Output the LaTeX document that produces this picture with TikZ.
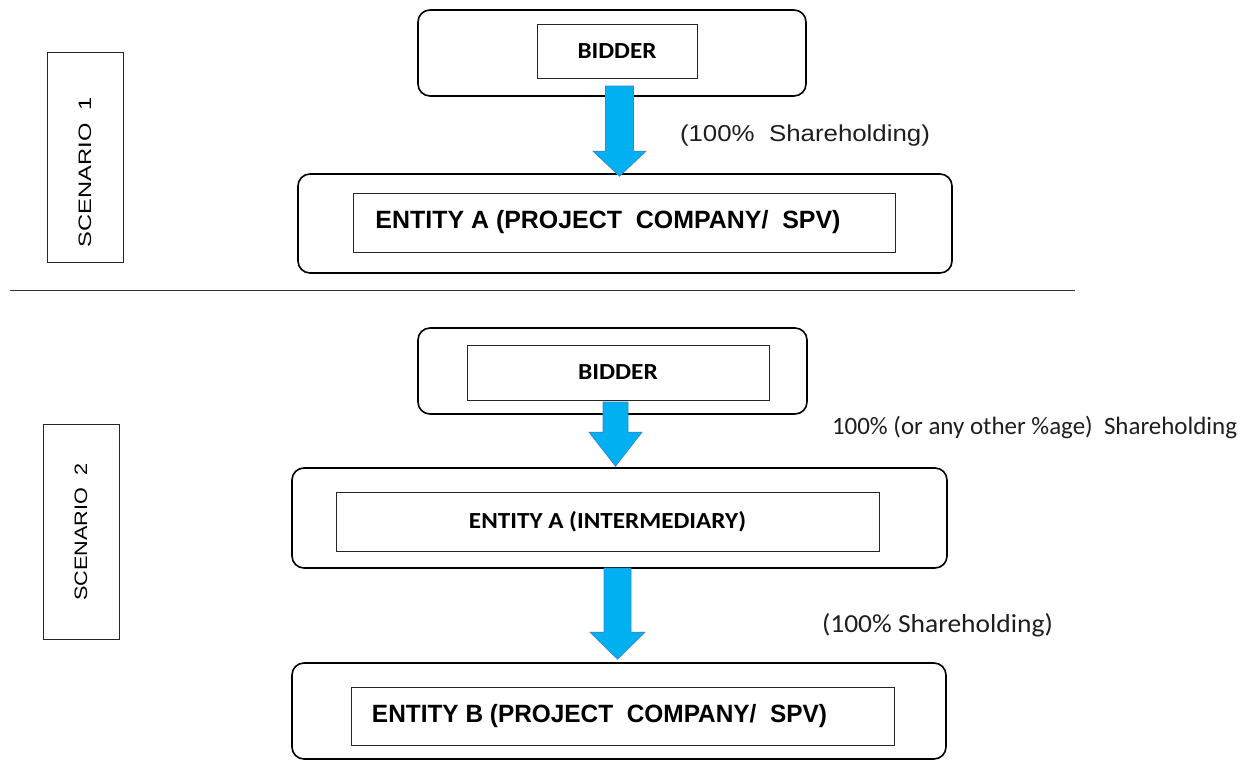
\documentclass[tikz,border=0pt]{standalone}
\usepackage{fontspec}
\setmainfont{Liberation Sans}
\newfontfamily\calibri{Carlito}
\usetikzlibrary{calc}
\definecolor{arrowfill}{RGB}{0,176,240}
\definecolor{arrowline}{RGB}{60,135,200}
\definecolor{labtext}{RGB}{30,30,30}
\newcommand{\fitw}[2]{\resizebox{#1}{\height}{#2}}
\newcommand{\barrow}[5]{%
  \draw[blockarrow] let \p1=(#1), \p2=(#2) in
    (\x2-#3,\y1) -- (\x2+#3,\y1) -- (\x2+#3,\y2+#5) -- (\x2+#4,\y2+#5) -- (\x2,\y2)
    -- (\x2-#4,\y2+#5) -- (\x2-#3,\y2+#5) -- cycle;}
\begin{document}
\begin{tikzpicture}[x=1pt,y=-1pt,
  outerbox/.style={draw=black, line width=1.6pt, rounded corners=12pt, inner sep=0pt},
  innerbox/.style={draw=black!85, line width=0.9pt, inner sep=0pt},
  scenbox/.style={draw=black!85, line width=0.9pt, inner sep=0pt, rotate=90},
  blockarrow/.style={fill=arrowfill, draw=arrowline, line width=0.7pt},
  lab/.style={inner sep=0pt, text=labtext},
  sepline/.style={draw=black!80, line width=0.8pt}]
\useasboundingbox (0,0) rectangle (1247,760);
\fill[white] (0,0) rectangle (1247,760);

% ---------- Scenario 1 ----------
\node[scenbox, minimum width=210pt, minimum height=76pt] (sc1) at (85,157)
  {\fitw{150pt}{\fontsize{18}{18}\selectfont SCENARIO\ \ 1}\hspace*{30pt}};

\node[outerbox, minimum width=388pt, minimum height=86pt] (bid1out) at (612,53) {};
\node[innerbox, minimum width=160pt, minimum height=54pt] (bid1in) at (617,51)
  {\fitw{79pt}{\calibri\bfseries\fontsize{23}{23}\selectfont BIDDER}};

\node[outerbox, minimum width=654pt, minimum height=99pt] (ent1out) at (625,223.5) {};
\node[innerbox, minimum width=542pt, minimum height=59pt] (ent1in) at (624,222.5)
  {\fitw{465pt}{\bfseries\fontsize{25}{25}\selectfont ENTITY A (PROJECT\ \ COMPANY/\ \ SPV)}\hspace*{32pt}};

\coordinate (a1top) at (619.5,86);
\coordinate (a1tip) at ($(a1top |- ent1out.north)+(0,3)$);
\barrow{a1top}{a1tip}{14pt}{26.5pt}{25pt}

\node[lab] (lab1) at (805,136)
  {\fitw{250pt}{\fontsize{23}{23}\selectfont (100\%\ \ Shareholding)}};

\path[sepline] (10,290) -- (1075,290);

% ---------- Scenario 2 ----------
\node[scenbox, minimum width=215pt, minimum height=76pt] (sc2) at (81,532)
  {\fitw{137pt}{\fontsize{18}{18}\selectfont SCENARIO\ \ 2}};

\node[outerbox, minimum width=389pt, minimum height=86pt] (bid2out) at (612.5,371) {};
\node[innerbox, minimum width=302pt, minimum height=55pt] (bid2in) at (618,372.5)
  {\fitw{80pt}{\calibri\bfseries\fontsize{23}{23}\selectfont BIDDER}};

\node[outerbox, minimum width=655pt, minimum height=100pt] (ent2out) at (619.5,518) {};
\node[innerbox, minimum width=543pt, minimum height=59pt] (ent2in) at (607.5,521.5)
  {\fitw{277pt}{\calibri\bfseries\fontsize{23}{23}\selectfont ENTITY A (INTERMEDIARY)}};

\node[outerbox, minimum width=654pt, minimum height=96pt] (ent3out) at (619,711) {};
\node[innerbox, minimum width=543pt, minimum height=58pt] (ent3in) at (622.5,716)
  {\fitw{455pt}{\bfseries\fontsize{25}{25}\selectfont ENTITY B (PROJECT\ \ COMPANY/\ \ SPV)}\hspace*{46pt}};

\coordinate (a2top) at (615.5,402);
\coordinate (a2tip) at ($(a2top |- ent2out.north)+(0,-1)$);
\barrow{a2top}{a2tip}{12.5pt}{26.5pt}{34pt}

\coordinate (a3top) at (617.5,568);
\coordinate (a3tip) at ($(a3top |- ent3out.north)+(0,-3)$);
\barrow{a3top}{a3tip}{13.5pt}{27.5pt}{27pt}

\node[lab] (lab2) at (1034.5,427)
  {\fitw{405pt}{\calibri\fontsize{25}{25}\selectfont 100\% (or any other \%age)\ \ Shareholding}};
\node[lab] (lab3) at (937.5,625)
  {\fitw{231pt}{\calibri\fontsize{26}{26}\selectfont (100\% Shareholding)}};
\end{tikzpicture}
\end{document}
